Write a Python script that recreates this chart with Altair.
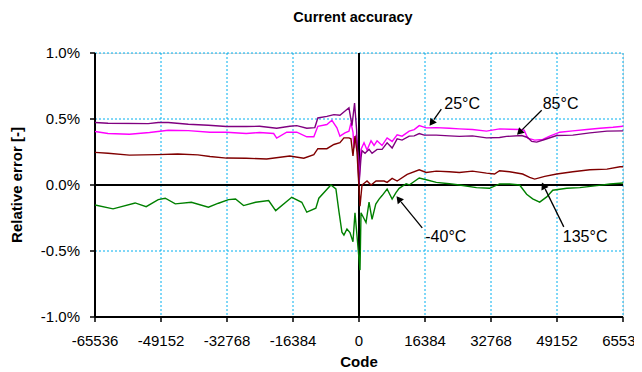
import math
import altair as alt
import pandas as pd

# ---------------- data (Code, relative error in %) ----------------
series_names = ["25°C", "85°C", "135°C", "-40°C"]
series_colors = ["#FF00FF", "#800080", "#800000", "#008000"]

code_25 = [-65536, -62300, -57000, -52000, -47348, -42364, -37000, -32894, -28000, -24671,
           -21182, -20434, -17942, -15450, -12958, -11214, -10217, -7974, -6728, -5482,
           -4735, -3489, -2492, -1994, -1495, -1246, -748, -250,
           0, 500, 1246, 1994, 2990, 3738, 4486, 5732, 6978, 8224, 9470, 10700, 12460,
           13706, 14952, 16696, 19188, 22428, 24920, 28160, 31648, 34888, 37380, 39872,
           41000, 41866, 43610, 45604, 47348, 49840, 53080, 56568, 59808, 63048, 65536]
err_25 = [0.405, 0.39, 0.385, 0.398, 0.415, 0.412, 0.40, 0.40, 0.39, 0.398,
          0.39, 0.355, 0.40, 0.40, 0.365, 0.365, 0.445, 0.458, 0.49, 0.433,
          0.37, 0.395, 0.408, 0.47, 0.40, 0.28, 0.38, 0.22,
          0.02, 0.27, 0.32, 0.265, 0.335, 0.30, 0.335, 0.30, 0.357, 0.33, 0.38, 0.37, 0.408,
          0.42, 0.45, 0.433, 0.435, 0.43, 0.425, 0.42, 0.408, 0.425, 0.422, 0.42,
          0.415, 0.355, 0.34, 0.345, 0.37, 0.40, 0.41, 0.42, 0.43, 0.437, 0.445]

code_85 = [-65536, -62300, -52332, -49840, -47348, -42364, -37380, -32894, -28000, -24671,
           -20434, -17195, -15450, -12958, -10965, -10217, -7974, -6230, -4735, -2492,
           -1744, -1100, -600,
           0, 500, 748, 1500, 2492, 3240, 4486, 5732, 6978, 8224, 9470, 10700, 12460,
           13706, 14952, 16200, 19188, 22428, 24920, 28160, 31648, 34888, 36632, 40370,
           41866, 42862, 44108, 46102, 49092, 53080, 57316, 61552, 65536]
err_85 = [0.473, 0.468, 0.465, 0.473, 0.473, 0.46, 0.453, 0.443, 0.443, 0.445,
          0.43, 0.445, 0.45, 0.43, 0.435, 0.508, 0.52, 0.533, 0.528, 0.585,
          0.45, 0.62, 0.42,
          0.0, 0.21, 0.26, 0.24, 0.27, 0.24, 0.27, 0.27, 0.32, 0.28, 0.35, 0.34, 0.37,
          0.372, 0.39, 0.378, 0.378, 0.372, 0.368, 0.372, 0.357, 0.36, 0.368, 0.375,
          0.36, 0.33, 0.325, 0.345, 0.375, 0.378, 0.395, 0.408, 0.41]

code_135 = [-65536, -62300, -57000, -50000, -45000, -40000, -37000, -32894, -28000, -22926,
            -17195, -13706, -11214, -10217, -7974, -6230, -4735, -3738, -2492, -1994,
            -1495, -1000, -500,
            249, 748, 1994, 2990, 4236, 6230, 6978, 8224, 9470, 11962, 14952, 16696,
            19188, 22428, 24920, 28160, 31648, 33642, 34888, 37380, 40620, 42364, 43610,
            46102, 49092, 53080, 57316, 61552, 64792, 65536]
err_135 = [0.247, 0.24, 0.226, 0.23, 0.235, 0.228, 0.216, 0.204, 0.203, 0.197,
           0.22, 0.203, 0.23, 0.275, 0.275, 0.307, 0.32, 0.357, 0.357, 0.35,
           0.22, 0.37, 0.25,
           -0.16, 0.0, 0.03, 0.0, 0.03, 0.03, 0.02, 0.05, 0.03, 0.08, 0.115, 0.095,
           0.105, 0.10, 0.095, 0.105, 0.09, 0.083, 0.108, 0.10, 0.083, 0.058, 0.045,
           0.065, 0.083, 0.10, 0.115, 0.12, 0.138, 0.138]

code_m40 = [-65536, -61054, -55572, -52830, -49840, -48096, -45604, -41616, -37380, -34888,
            -32396, -30652, -28658, -25668, -22428, -20684, -16696, -14204, -12958, -10716,
            -9968, -6978, -5732, -4984, -4236, -3738, -2990, -2243, -1495, -997,
            249, 500, 1744, 2492, 3240, 4162, 4984, 5732, 6978, 8224, 9220, 9968, 11712,
            12460, 14952, 16696, 19188, 22428, 24920, 29156, 32396, 34888, 37380, 39872,
            41616, 43112, 44856, 46600, 48096, 51584, 54824, 59060, 62300, 65536]
err_m40 = [-0.151, -0.181, -0.136, -0.164, -0.111, -0.10, -0.143, -0.131, -0.168, -0.138,
           -0.111, -0.106, -0.156, -0.131, -0.118, -0.194, -0.093, -0.131, -0.206, -0.176,
           -0.10, 0.0, -0.03, -0.2, -0.357, -0.38, -0.333, -0.36, -0.43, -0.21,
           -0.645, -0.21, -0.284, -0.13, -0.26, -0.145, -0.107, -0.08, -0.03, -0.107, -0.056, -0.025, 0.01,
           0.0, 0.053, 0.04, 0.02, 0.01, 0.0, -0.02, -0.025, 0.008, 0.008, 0.0,
           -0.07, -0.105, -0.13, -0.09, -0.04, -0.025, -0.02, -0.005, 0.008, 0.015]

x_ticks = [-65536, -49152, -32768, -16384, 0, 16384, 32768, 49152, 65536]
y_ticks = [-0.01, -0.005, 0.0, 0.005, 0.01]

# annotations: label text position and arrow tail -> tip (code, error %)
ann_labels = ["25°C", "85°C", "-40°C", "135°C"]
ann_text_code = [21182, 45604, 16447, 50588]
ann_text_err = [0.611, 0.611, -0.392, -0.392]
ann_tail_code = [20434, 45354, 15700, 50837]
ann_tail_err = [0.574, 0.566, -0.325, -0.317]
ann_tip_code = [17444, 39124, 9220, 45354]
ann_tip_err = [0.445, 0.377, -0.083, 0.023]

# ---------------- build tables ----------------
rows = []
for name, cs, vs in zip(series_names, [code_25, code_85, code_135, code_m40],
                        [err_25, err_85, err_135, err_m40]):
    for c, v in zip(cs, vs):
        rows.append({"series": name, "code": c, "err": v / 100.0})
df = pd.DataFrame(rows)

W, H = 528, 264
sx = W / 131072.0
sy = H / 0.02
head_size = 64
r = math.sqrt(head_size) / 2.0

arr_rows, head_rows, text_rows = [], [], []
for i in range(len(ann_labels)):
    tc, te = ann_tail_code[i], ann_tail_err[i] / 100.0
    pc, pe = ann_tip_code[i], ann_tip_err[i] / 100.0
    dx = (pc - tc) * sx
    dy = -(pe - te) * sy
    L = math.hypot(dx, dy)
    ux, uy = dx / L, dy / L
    ang = math.degrees(math.atan2(dx, -dy)) % 360
    arr_rows.append({"code": tc, "err": te, "code2": pc - 2 * r * ux / sx, "err2": pe + 2 * r * uy / sy})
    head_rows.append({"code": pc - r * ux / sx, "err": pe + r * uy / sy, "ang": ang})
    text_rows.append({"code": ann_text_code[i], "err": ann_text_err[i] / 100.0, "label": ann_labels[i]})
arr_df = pd.DataFrame(arr_rows)
head_df = pd.DataFrame(head_rows)
text_df = pd.DataFrame(text_rows)

FONT = "Liberation Sans"
xs = alt.Scale(domain=[-65536, 65536], nice=False, zero=False)
ys = alt.Scale(domain=[-0.01, 0.01], nice=False)

x_axis = alt.Axis(values=x_ticks, title="Code",
                  labelExpr="replace(format(datum.value, 'd'), '\u2212', '-')",
                  labelFontSize=15, labelFont=FONT, translate=0,
                  labelColor="black", tickColor="black", tickSize=5, tickWidth=1.5,
                  labelPadding=12, domainColor="black", domainWidth=2,
                  grid=True, gridColor="#00B0F0", gridDash=[2, 2], gridWidth=1,
                  titleFont=FONT, titleFontSize=15, titleFontWeight="bold", titleColor="black",
                  titleX=W / 2, titleY=45, titleAlign="center", titleBaseline="middle",
                  labelFlush=False, labelOverlap=False)
y_axis = alt.Axis(values=y_ticks, title="Relative error [-]",
                  labelExpr="replace(format(datum.value, '.1%'), '\u2212', '-')",
                  labelFontSize=15, translate=0,
                  labelFont=FONT, labelColor="black", tickColor="black", tickSize=5, tickWidth=1.5,
                  labelPadding=10, domainColor="black", domainWidth=2,
                  grid=True, gridColor="#00B0F0", gridDash=[2, 2], gridWidth=1,
                  titleFont=FONT, titleFontSize=15, titleFontWeight="bold", titleColor="black",
                  titleX=-78, titleY=H / 2, titleAlign="center", titleBaseline="middle",
                  titleAngle=270, labelOverlap=False)

zero_x = alt.Chart(pd.DataFrame({"code": [0]})).mark_rule(color="black", strokeWidth=2).encode(
    x=alt.X("code:Q", scale=xs, axis=x_axis))
zero_y = alt.Chart(pd.DataFrame({"err": [0.0]})).mark_rule(color="black", strokeWidth=2).encode(
    y=alt.Y("err:Q", scale=ys, axis=y_axis))

lines = alt.Chart(df).mark_line(strokeWidth=1.4, clip=True).encode(
    x=alt.X("code:Q", scale=xs, axis=x_axis),
    y=alt.Y("err:Q", scale=ys, axis=y_axis),
    color=alt.Color("series:N", scale=alt.Scale(domain=series_names, range=series_colors), legend=None),
    order=alt.Order("code:Q"),
)

arrows = alt.Chart(arr_df).mark_rule(color="black", strokeWidth=1.3).encode(
    x=alt.X("code:Q", scale=xs, axis=x_axis), y=alt.Y("err:Q", scale=ys, axis=y_axis),
    x2="code2:Q", y2="err2:Q")
heads = alt.Chart(head_df).mark_point(shape="triangle-up", filled=True, size=head_size,
                                      color="black", opacity=1, strokeWidth=0).encode(
    x=alt.X("code:Q", scale=xs, axis=x_axis), y=alt.Y("err:Q", scale=ys, axis=y_axis),
    angle=alt.Angle("ang:Q", scale=None))
texts = alt.Chart(text_df).mark_text(align="left", baseline="middle", fontSize=16, font=FONT,
                                     color="black").encode(
    x=alt.X("code:Q", scale=xs, axis=x_axis), y=alt.Y("err:Q", scale=ys, axis=y_axis),
    text="label:N")

chart = alt.layer(zero_x, zero_y, lines, arrows, heads, texts).properties(
    width=W, height=H,
    title=alt.TitleParams("Current accuracy", font=FONT, fontSize=14.5, fontWeight="bold",
                          color="black", anchor="middle", offset=21, dx=-6),
    autosize=alt.AutoSizeParams(type="none"),
    padding={"left": 87, "top": 45, "right": 11, "bottom": 52},
).configure_view(stroke="#808080", strokeWidth=1).configure(background="white")

chart.save("out.html", embed_options={"renderer": "svg", "actions": False})
